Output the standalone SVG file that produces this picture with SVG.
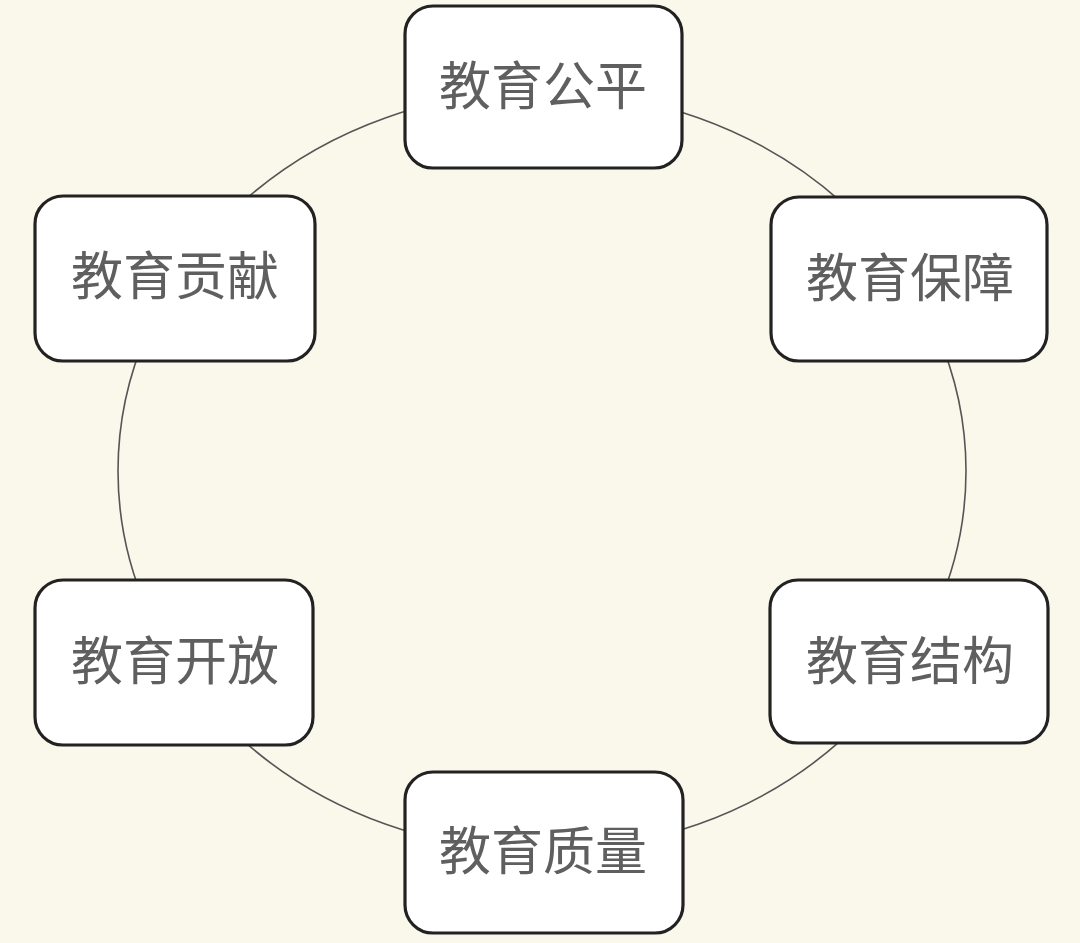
<svg xmlns="http://www.w3.org/2000/svg" width="1080" height="943" viewBox="0 0 1080 943">
<style>
.bg{fill:#FAF7EB}
.ring{fill:none;stroke:#555;stroke-width:1.6}
.box{fill:#FFFFFF;stroke:#222;stroke-width:3.2}
.lbl{font-family:"Noto Sans CJK SC","Noto Sans",sans-serif;font-size:52px;fill:#5f5f5f;text-anchor:middle}
</style>
<rect class="bg" x="0" y="0" width="1080" height="943"/>
<g id="connectors">
<ellipse class="ring" cx="542" cy="471" rx="424" ry="380"/>
</g>
<g id="node-gongping">
<rect class="box" x="405" y="6" width="277" height="162" rx="28"/>
<text class="lbl" x="543" y="105">教育公平</text>
</g>
<g id="node-baozhang">
<rect class="box" x="771" y="197" width="276" height="164" rx="28"/>
<text class="lbl" x="910" y="297">教育保障</text>
</g>
<g id="node-jiegou">
<rect class="box" x="770" y="580" width="278" height="163" rx="28"/>
<text class="lbl" x="910" y="680">教育结构</text>
</g>
<g id="node-zhiliang">
<rect class="box" x="405" y="772" width="278" height="161" rx="28"/>
<text class="lbl" x="543" y="870">教育质量</text>
</g>
<g id="node-kaifang">
<rect class="box" x="35" y="580" width="278" height="165" rx="28"/>
<text class="lbl" x="175" y="680">教育开放</text>
</g>
<g id="node-gongxian">
<rect class="box" x="35" y="196" width="280" height="165" rx="28"/>
<text class="lbl" x="175" y="295">教育贡献</text>
</g>
</svg>
